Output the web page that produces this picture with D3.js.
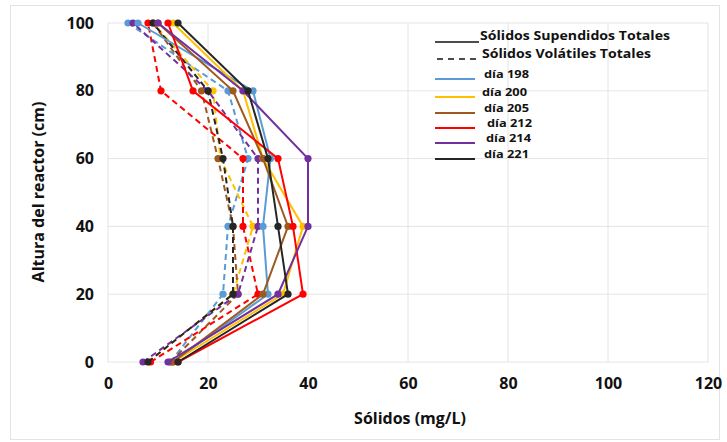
<!DOCTYPE html>
<html>
<head>
<meta charset="utf-8">
<script src="https://cdn.jsdelivr.net/npm/d3@7"></script>
<style>
  html, body { margin: 0; padding: 0; background: #fff; }
  svg { display: block; font-family: "Open Sans", "Liberation Sans", sans-serif; }
</style>
</head>
<body>
<svg id="chart" width="727" height="442"></svg>
<script>
// Heights along the reactor (cm)
const heights = [0, 20, 40, 60, 80, 100];
const days = ["día 198", "día 200", "día 205", "día 212", "día 214", "día 221"];
const dayColors = ["#5B9BD5", "#FFC000", "#9E5A1E", "#FF0000", "#7030A0", "#262626"];

// Sólidos Suspendidos Totales (mg/L), one list per day, following heights
const sst198 = [13, 32, 31, 32.5, 29, 6];
const sst200 = [13, 35, 39, 31, 27, 13];
const sst205 = [13, 31, 36, 31, 25, 10];
const sst212 = [14, 39, 37, 34, 17, 12];
const sst214 = [12, 34, 40, 40, 27, 10];
const sst221 = [14, 36, 34, 32, 28, 14];

// Sólidos Volátiles Totales (mg/L)
const svt198 = [12.5, 23, 24, 28, 24, 4];
const svt200 = [8, 25, 29, 22.5, 21, 9];
const svt205 = [12.5, 26, 25, 22, 18.7, 9];
const svt212 = [8.5, 30, 27, 27, 10.6, 8];
const svt214 = [7, 26, 30, 30, 20, 5];
const svt221 = [8, 25, 25, 23, 20, 9];

const xTicks = [0, 20, 40, 60, 80, 100, 120];
const yTicks = [0, 20, 40, 60, 80, 100];

const sstSeries = [sst198, sst200, sst205, sst212, sst214, sst221];
const svtSeries = [svt198, svt200, svt205, svt212, svt214, svt221];

const svg = d3.select("#chart");

// outer chart frame
svg.append("rect").attr("x", 10.5).attr("y", 5.5).attr("width", 709).attr("height", 434)
  .attr("fill", "none").attr("stroke", "#e3e3e3");

const x = d3.scaleLinear().domain([0, 120]).range([108, 708]);
const y = d3.scaleLinear().domain([0, 100]).range([362, 23]);

// gridlines
const grid = svg.append("g");
grid.selectAll("line.v").data(xTicks).join("line")
  .attr("x1", d => x(d)).attr("x2", d => x(d)).attr("y1", y(0)).attr("y2", y(100))
  .attr("stroke", "#e4e4e4").attr("stroke-width", 1);
grid.selectAll("line.h").data(yTicks).join("line")
  .attr("x1", x(0)).attr("x2", x(120)).attr("y1", d => y(d)).attr("y2", d => y(d))
  .attr("stroke", "#e4e4e4").attr("stroke-width", 1);

// axes (labels only, lines hidden)
const xAxis = svg.append("g").attr("transform", `translate(0,${y(0)})`)
  .call(d3.axisBottom(x).tickValues(xTicks).tickSize(0).tickPadding(16));
const yAxis = svg.append("g").attr("transform", `translate(${x(0)},0)`)
  .call(d3.axisLeft(y).tickValues(yTicks).tickSize(0).tickPadding(14));
[xAxis, yAxis].forEach(a => {
  a.select(".domain").remove();
  a.selectAll("text").attr("font-size", 16).attr("font-weight", "bold")
    .attr("fill", "#111").attr("font-family", "\"Open Sans\", sans-serif");
});

svg.append("text").attr("x", 410).attr("y", 424).attr("text-anchor", "middle")
  .attr("font-size", 16).attr("font-weight", "bold").attr("fill", "#111")
  .text("Sólidos (mg/L)");
svg.append("text").attr("transform", "translate(44,192) rotate(-90)")
  .attr("text-anchor", "middle").attr("font-size", 16).attr("font-weight", "bold")
  .attr("fill", "#111").text("Altura del reactor (cm)");

const line = d3.line().x(d => x(d[0])).y(d => y(d[1]));

function drawSeries(values, color, dashed) {
  const pts = values.map((v, i) => [v, heights[i]]);
  const g = svg.append("g");
  g.append("path").attr("d", line(pts)).attr("fill", "none")
    .attr("stroke", color).attr("stroke-width", 2)
    .attr("stroke-dasharray", dashed ? "6,4" : null);
  g.selectAll("circle").data(pts).join("circle")
    .attr("cx", d => x(d[0])).attr("cy", d => y(d[1])).attr("r", 3.6)
    .attr("fill", color);
}

svtSeries.forEach((s, i) => drawSeries(s, dayColors[i], true));
sstSeries.forEach((s, i) => drawSeries(s, dayColors[i], false));

// legend
const lg = svg.append("g");
lg.append("line").attr("x1", 435).attr("x2", 479).attr("y1", 42).attr("y2", 42)
  .attr("stroke", "#111").attr("stroke-width", 1.3);
lg.append("text").attr("x", 480).attr("y", 40).attr("font-size", 13).attr("font-weight", "bold")
  .attr("fill", "#111").attr("textLength", 190).attr("lengthAdjust", "spacingAndGlyphs")
  .text("Sólidos Supendidos Totales");
lg.append("line").attr("x1", 437).attr("x2", 480).attr("y1", 59).attr("y2", 59)
  .attr("stroke", "#111").attr("stroke-width", 1.3).attr("stroke-dasharray", "6,5");
lg.append("text").attr("x", 482).attr("y", 58).attr("font-size", 13).attr("font-weight", "bold")
  .attr("fill", "#111").attr("textLength", 169).attr("lengthAdjust", "spacingAndGlyphs")
  .text("Sólidos Volátiles Totales");

const legendRows = [79, 97, 113, 128, 143, 159];
const legendTextX = [484, 482, 484, 487, 486, 484];
days.forEach((d, i) => {
  lg.append("line").attr("x1", 435).attr("x2", 475)
    .attr("y1", legendRows[i]).attr("y2", legendRows[i])
    .attr("stroke", dayColors[i]).attr("stroke-width", 2.2);
  lg.append("text").attr("x", legendTextX[i]).attr("y", legendRows[i] - 1)
    .attr("font-size", 11).attr("font-weight", "bold").attr("fill", "#111")
    .attr("textLength", 45).attr("lengthAdjust", "spacingAndGlyphs")
    .text(d);
});
</script>
</body>
</html>
